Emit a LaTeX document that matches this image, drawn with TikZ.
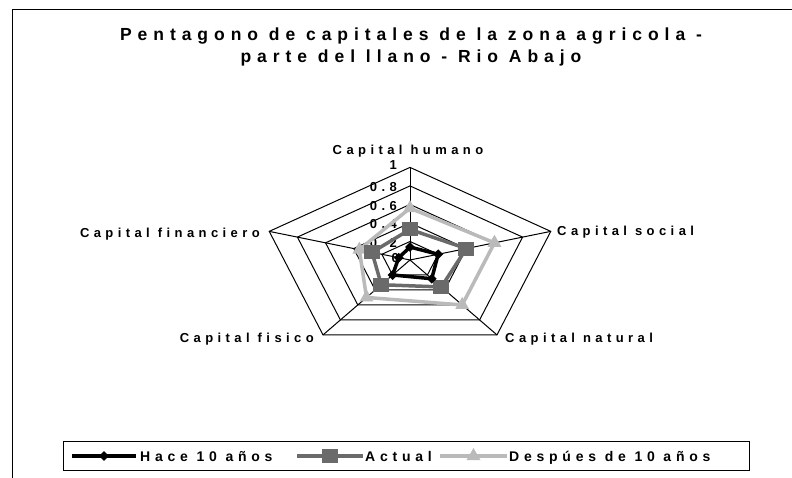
\documentclass[tikz,border=0pt]{standalone}
\usepackage{fontspec}
\setmainfont{Liberation Sans}
\newfontfamily\lblfont{Liberation Sans}[LetterSpace=34]
\usetikzlibrary{shapes.geometric,calc}
\definecolor{dkgray}{HTML}{6A6A6A}
\definecolor{ltgray}{HTML}{BABABA}
\tikzset{
  lbl/.style={font=\lblfont\bfseries\fontsize{13}{15}\selectfont, inner sep=0pt},
  leg/.style={font=\lblfont\bfseries\fontsize{14}{16}\selectfont, inner sep=0pt},
  ttl/.style={font=\lblfont\bfseries\fontsize{17.5}{20}\selectfont, inner sep=0pt},
  tick/.style={font=\lblfont\bfseries\fontsize{13}{15}\selectfont, inner sep=0pt, anchor=east},
  grid/.style={line width=1pt, black},
  ser/.style={line width=3.5pt, line join=round},
  dmark/.style={diamond, fill=black, minimum size=10pt, inner sep=0pt},
  smark/.style={rectangle, fill=dkgray, minimum width=16pt, minimum height=14pt, inner sep=0pt},
  tmark/.style={regular polygon, regular polygon sides=3, fill=ltgray, minimum size=16pt, inner sep=0pt},
}
\begin{document}
\begin{tikzpicture}[x=1pt,y=-1pt]
\useasboundingbox (0,0) rectangle (792,478);
\fill[white] (0,0) rectangle (792,478);
% frame
\draw[line width=1pt] (12,478) -- (12,10) -- (792,10);
% title
\node[ttl, anchor=base] (title1) at (411,41) {Pentagono de capitales de la zona agricola -};
\node[ttl, anchor=base] (title2) at (411,63) {parte del llano - Rio Abajo};
% axis labels
\node[lbl, anchor=base] (humano) at (408,155) {Capital humano};
\node[lbl, anchor=base west] (social) at (557,236) {Capital social};
\node[lbl, anchor=base east] (financiero) at (260,238) {Capital financiero};
\node[lbl, anchor=base east] (fisico) at (314,342) {Capital fisico};
\node[lbl, anchor=base west] (natural) at (505,342) {Capital natural};
\begin{scope}[shift={(410,260)}, x=148pt, y=92.6pt]
  % tick labels
  \node[tick, xshift=-13pt, yshift=2pt] (t10) at (90:1) {1};
  \node[tick, xshift=-13pt, yshift=-1.5pt] (t08) at (90:0.8) {0.8};
  \node[tick, xshift=-13pt, yshift=-1.5pt] (t06) at (90:0.6) {0.6};
  \node[tick, xshift=-13pt, yshift=-1.5pt] (t04) at (90:0.4) {0.4};
  \node[tick, xshift=-13pt, yshift=-1.5pt] (t02) at (90:0.2) {0.2};
  \node[tick, xshift=-11pt, yshift=2pt] (t00) at (90:0) {0};
  % grid rings
  \foreach \r in {0.2,0.4,0.6,0.8,1}
    \draw[grid] (90:\r) -- (18:\r) -- (-54:\r) -- (-126:\r) -- (162:\r) -- cycle;
  \coordinate (c) at (0,0);
  \foreach \a/\n in {90/a1,18/a2,-54/a3,-126/a4,162/a5}
    \coordinate (\n) at (\a:1);
  \foreach \n in {a1,a2,a3,a4,a5}
    \draw[grid] (c) -- (\n);
  % Despues de 10 anos
  \coordinate (d1) at (90:0.56);
  \coordinate (d2) at (18:0.6);
  \coordinate (d3) at (-54:0.6);
  \coordinate (d4) at (-126:0.5);
  \coordinate (d5) at (162:0.36);
  \draw[ser, ltgray] (d1) -- (d2) -- (d3) -- (d4) -- (d5) -- cycle;
  \foreach \i in {1,...,5} \node[tmark] (md\i) at (d\i) {};
  % Actual
  \coordinate (s1) at (90:0.33);
  \coordinate (s2) at (18:0.4);
  \coordinate (s3) at (-54:0.36);
  \coordinate (s4) at (-126:0.33);
  \coordinate (s5) at (162:0.27);
  \draw[ser, dkgray] (s1) -- (s2) -- (s3) -- (s4) -- (s5) -- cycle;
  \foreach \i in {1,...,5} \node[smark] (ms\i) at (s\i) {};
  % Hace 10 anos
  \coordinate (h1) at (90:0.14);
  \coordinate (h2) at (18:0.2);
  \coordinate (h3) at (-54:0.25);
  \coordinate (h4) at (-126:0.2);
  \coordinate (h5) at (162:0.08);
  \draw[ser, black] (h1) -- (h2) -- (h3) -- (h4) -- (h5) -- cycle;
  \foreach \i in {1,...,5} \node[dmark] (mh\i) at (h\i) {};
\end{scope}
% legend
\node[draw, line width=1.2pt, minimum width=686pt, minimum height=29pt, anchor=north west, inner sep=0pt] (legend) at (63,441) {};
\coordinate (la1) at (72,456); \coordinate (lb1) at (136,456);
\coordinate (la2) at (297,456); \coordinate (lb2) at (363,456);
\coordinate (la3) at (440,456); \coordinate (lb3) at (507,456);
\draw[ser, black] (la1) -- (lb1);
\node[dmark] (lm1) at ($(la1)!0.5!(lb1)$) {};
\draw[ser, dkgray] (la2) -- (lb2);
\node[smark] (lm2) at ($(la2)!0.5!(lb2)$) {};
\draw[ser, ltgray] (la3) -- (lb3);
\node[tmark] (lm3) at ($(la3)!0.5!(lb3)$) {};
\node[leg, anchor=base west] (lt1) at (140,461) {Hace 10 años};
\node[leg, anchor=base west] (lt2) at (365,461) {Actual};
\node[leg, anchor=base west] (lt3) at (509,461) {Despúes de 10 años};
\end{tikzpicture}
\end{document}
